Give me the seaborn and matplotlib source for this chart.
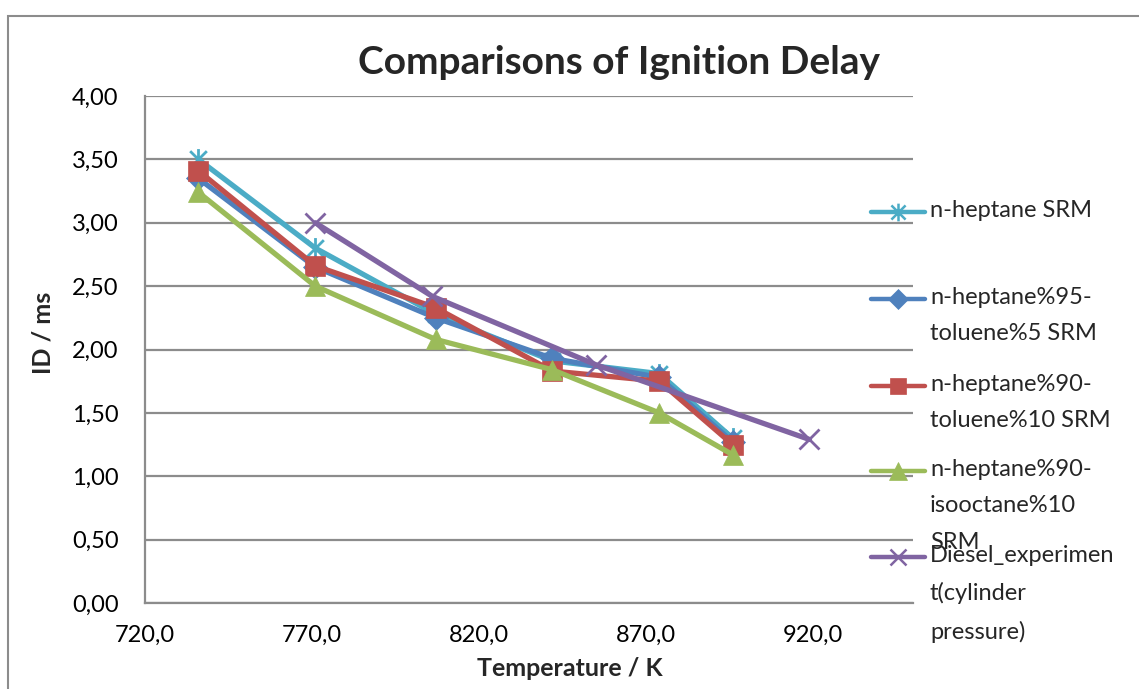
import numpy as np
import pandas as pd
import matplotlib
matplotlib.use("Agg")
import matplotlib.pyplot as plt
from matplotlib.path import Path
from matplotlib.lines import Line2D
from matplotlib.patches import Rectangle
from matplotlib.ticker import FuncFormatter, MultipleLocator
import seaborn as sns

# ---- data ----
temp_srm = [736, 771, 807, 842, 874, 896]
nheptane = [3.50, 2.80, 2.28, 1.91, 1.81, 1.30]
nhep95_tol5 = [3.35, 2.65, 2.25, 1.93, 1.78, 1.27]
nhep90_tol10 = [3.41, 2.66, 2.33, 1.83, 1.75, 1.25]
nhep90_iso10 = [3.24, 2.50, 2.08, 1.84, 1.50, 1.17]
temp_diesel = [771, 806, 855, 919]
diesel = [3.00, 2.42, 1.88, 1.29]

labels = ["n-heptane SRM", "n-heptane%95-\ntoluene%5 SRM", "n-heptane%90-\ntoluene%10 SRM",
          "n-heptane%90-\nisooctane%10\nSRM", "Diesel_experimen\nt(cylinder\npressure)"]
series_keys = ["n-heptane SRM", "n-heptane%95-toluene%5 SRM", "n-heptane%90-toluene%10 SRM",
               "n-heptane%90-isooctane%10 SRM", "Diesel_experiment(cylinder pressure)"]

frames = []
for key, xs, ys in [(series_keys[0], temp_srm, nheptane), (series_keys[1], temp_srm, nhep95_tol5),
                    (series_keys[2], temp_srm, nhep90_tol10), (series_keys[3], temp_srm, nhep90_iso10),
                    (series_keys[4], temp_diesel, diesel)]:
    frames.append(pd.DataFrame({"T": xs, "ID": ys, "series": key}))
df = pd.concat(frames, ignore_index=True)

# ---- style ----
sns.set_style("white")
plt.rcParams["font.family"] = ["Lato", "DejaVu Sans"]

colors = ["#4BACC6", "#4F81BD", "#C0504D", "#9BBB59", "#8064A2"]
star = Path([(-1, -1), (1, 1), (-1, 1), (1, -1), (0, -1.25), (0, 1.25)],
            [Path.MOVETO, Path.LINETO, Path.MOVETO, Path.LINETO, Path.MOVETO, Path.LINETO])
markers = [star, "D", "s", "^", "x"]
msizes = [15, 12, 14, 15, 14]
filled = [False, True, True, True, False]

fig = plt.figure(figsize=(11.39, 6.89), dpi=100)
ax = fig.add_axes([145/1139, 1-603/689, (913-145)/1139, (603-96)/689])

for i, key in enumerate(series_keys):
    sub = df[df["series"] == key]
    kw = dict(marker=markers[i], markersize=msizes[i], color=colors[i], linewidth=3.8,
              zorder=3 + i, legend=False)
    if filled[i]:
        kw.update(markerfacecolor=colors[i], markeredgecolor=colors[i], markeredgewidth=0.5)
    else:
        kw.update(markeredgecolor=colors[i], markeredgewidth=2.0)
    sns.lineplot(data=sub, x="T", y="ID", ax=ax, sort=False, **kw)

ax.set_xlim(720, 950)
ax.set_ylim(0, 4.0)
ax.yaxis.set_major_locator(MultipleLocator(0.5))
ax.set_xticks([720, 770, 820, 870, 920])
ax.xaxis.set_major_formatter(FuncFormatter(lambda v, p: f"{v:.1f}".replace(".", ",")))
ax.yaxis.set_major_formatter(FuncFormatter(lambda v, p: f"{v:.2f}".replace(".", ",")))
ax.grid(axis="y", color="#8C8C8C", linewidth=1.6)
ax.grid(axis="x", visible=False)
ax.set_axisbelow(True)
for s in ["top", "right"]:
    ax.spines[s].set_visible(False)
for s in ["left", "bottom"]:
    ax.spines[s].set_color("#8C8C8C")
    ax.spines[s].set_linewidth(1.6)
ax.tick_params(axis="both", direction="out", length=7, width=1.5, color="#8C8C8C",
               labelsize=17, labelcolor="black")
ax.tick_params(axis="y", pad=12)
ax.tick_params(axis="x", pad=9)
ax.set_xlabel("")
ax.set_ylabel("")

fig.text(619/1139, 1-63/689, "Comparisons of Ignition Delay", ha="center", va="center",
         fontsize=28, fontweight="bold")
fig.text(43/1139, 1-333/689, "ID / ms", ha="center", va="center", rotation=90,
         fontsize=18, fontweight="bold")
fig.text(570/1139, 1-668/689, "Temperature / K", ha="center", va="center",
         fontsize=18, fontweight="bold")

# ---- legend (Excel-style, handle aligned with first text line) ----
handle_y = [212, 299, 386, 471, 557]
for i in range(5):
    yy = 1 - handle_y[i]/689
    ln = Line2D([871/1139, 925/1139], [yy, yy], transform=fig.transFigure, color=colors[i],
                linewidth=3.2, solid_capstyle="round")
    fig.add_artist(ln)
    mk = Line2D([898/1139], [yy], transform=fig.transFigure, color=colors[i], marker=markers[i],
                markersize=msizes[i]*0.85, linestyle="none",
                markerfacecolor=colors[i] if filled[i] else "none",
                markeredgecolor=colors[i], markeredgewidth=0.5 if filled[i] else 1.8)
    fig.add_artist(mk)
    fig.text(930/1139, yy + 12/689, labels[i], ha="left", va="top", fontsize=17,
             linespacing=1.9)

# outer chart border
fig.add_artist(Rectangle((8/1139, -0.05), 1.1, 1 - 16/689 + 0.05, transform=fig.transFigure,
                         fill=False, edgecolor="#8C8C8C", linewidth=1.5))

fig.savefig("out.png", dpi=100)
